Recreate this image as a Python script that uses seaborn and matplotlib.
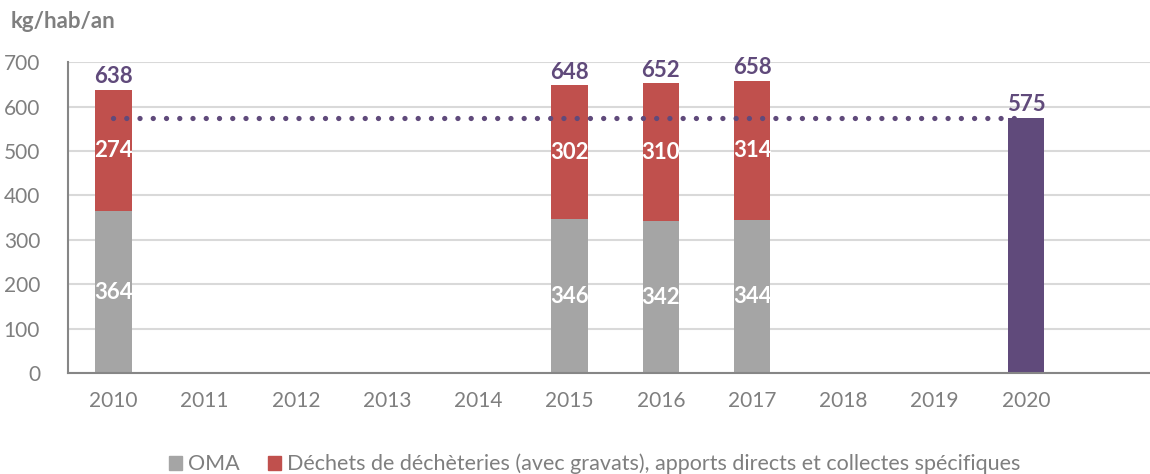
import pandas as pd
import numpy as np
import matplotlib.pyplot as plt
import seaborn as sns
from matplotlib.patches import Patch

annees = ['2010', '2011', '2012', '2013', '2014', '2015', '2016', '2017', '2018', '2019', '2020']
annees_barres = ['2010', '2015', '2016', '2017']
oma = [364, 346, 342, 344]
decheteries = [274, 302, 310, 314]
annee_objectif = ['2020']
objectif = [575]

gris = '#A5A5A5'
rouge = '#C0504D'
violet = '#604A7B'
texte_gris = '#7F7F7F'

df = pd.DataFrame({'Annee': annees_barres, 'OMA': oma, 'Decheteries': decheteries})
df['Total'] = df['OMA'] + df['Decheteries']
df_obj = pd.DataFrame({'Annee': annee_objectif, 'Valeur': objectif})

sns.set_style('white')
plt.rcParams['font.family'] = ['Lato', 'DejaVu Sans']

fig = plt.figure(figsize=(11.5, 4.74), dpi=100)
ax = fig.add_axes([0.059, 0.213, 0.941, 0.656])

opts = dict(order=annees, width=0.4, saturation=1, ax=ax, zorder=2, linewidth=0, edgecolor='none')
sns.barplot(data=df, x='Annee', y='OMA', color=gris, **opts)
sns.barplot(data=df, x='Annee', y='Decheteries', color=rouge,
            bottom=df['OMA'].values, **opts)
sns.barplot(data=df_obj, x='Annee', y='Valeur', color=violet, **opts)

# ligne d'objectif pointillée
x0 = annees.index(annees_barres[0])
x1 = annees.index(annee_objectif[0])
ax.plot([x0, x1], [objectif[0], objectif[0]], color=violet, lw=3.8,
        dashes=(0.01, 2.5), dash_capstyle='round', zorder=3)

# étiquettes
for _, r in df.iterrows():
    i = annees.index(r['Annee'])
    ax.text(i, r['OMA'] / 2, f"{r['OMA']}", ha='center', va='center',
            color='white', fontsize=16, fontweight='bold', zorder=4)
    ax.text(i, r['OMA'] + r['Decheteries'] / 2, f"{r['Decheteries']}", ha='center',
            va='center', color='white', fontsize=16, fontweight='bold', zorder=4)
    ax.text(i, r['Total'] + 6, f"{r['Total']}", ha='center', va='bottom',
            color=violet, fontsize=16, fontweight='bold', zorder=4)
for a, v in zip(annee_objectif, objectif):
    ax.text(annees.index(a), v + 6, f"{v}", ha='center', va='bottom',
            color=violet, fontsize=16, fontweight='bold', zorder=4)

ax.set_xlim(-0.5, 11.36)
ax.set_ylim(0, 700)
ax.set_yticks(range(0, 701, 100))
ax.yaxis.grid(True, color='#D9D9D9', lw=1.5, zorder=0)
ax.set_axisbelow(True)
ax.set_xlabel('')
ax.set_ylabel('')
for s in ['top', 'right']:
    ax.spines[s].set_visible(False)
for s in ['left', 'bottom']:
    ax.spines[s].set_color('#868686')
    ax.spines[s].set_linewidth(1.5)
ax.tick_params(axis='both', length=0, labelsize=15, colors=texte_gris)
ax.tick_params(axis='x', pad=13)
ax.tick_params(axis='y', pad=20)

fig.text(0.009, 0.955, 'kg/hab/an', fontsize=16, fontweight='bold', color=texte_gris,
         va='center', ha='left')

handles = [Patch(color=gris, label='OMA'),
           Patch(color=rouge, label='Déchets de déchèteries (avec gravats), apports directs et collectes spécifiques')]
fig.legend(handles=handles, loc='center', bbox_to_anchor=(0.517, 0.021), ncol=2,
           frameon=False, fontsize=15.5, handlelength=0.6, handleheight=0.6,
           handletextpad=0.3, columnspacing=1.3, labelcolor=texte_gris)

plt.savefig('out.png', dpi=100)
